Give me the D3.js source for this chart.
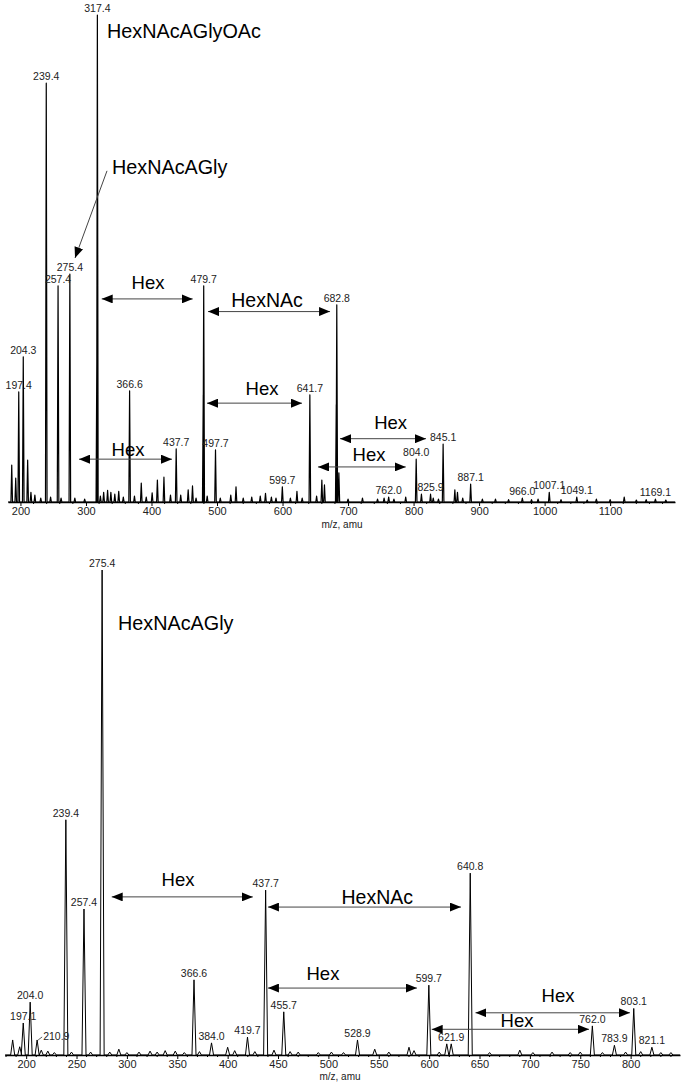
<!DOCTYPE html>
<html><head><meta charset="utf-8">
<script src="https://cdn.jsdelivr.net/npm/d3@7"></script>
<style>body{margin:0;background:#fff}svg{display:block}text{font-family:"Liberation Sans",Arial,sans-serif}</style>
</head><body>
<svg id="c" width="683" height="1085"></svg>
<script>
// ---------- Top spectrum data ----------
const topLabeledMz  = [197.4,204.3,239.4,257.4,275.4,317.4,366.6,437.7,479.7,497.7,599.7,641.7,682.8,762.0,804.0,825.9,845.1,887.1,966.0,1007.1,1049.1,1169.1];
const topLabeledInt = [22.6, 29.8, 86.0, 44.4, 46.8, 100,  22.8, 10.9, 44.4, 10.7, 3.1,  22.0, 40.5, 1.0,  8.8,  1.6,  11.9, 3.7,  0.8,  2.0,   1.0,   0.6];
const topMinorMz  = [186.7,192.8,211,216,222,231,246,262,283,298,316.6,322,327,333,338,344,350,357,374,384.4,392,401,409,419,429,444.6,456,462.6,468,479,485,505,521,529,540,553,566,574,583,590,612,622,630,652,660,664,682,686,700,722,745,755,770,788,812,830,838,863,867,875,905,925,945,980,990,1025,1065,1079,1100,1121.5,1140,1155,1185];
const topMinorInt = [7.6,4.9,8.6,2,1.4,0.8,1,0.8,0.8,0.6,30,1.2,2,2.4,2,1.6,2.2,1,1.2,3.9,1,1.9,4.5,5.1,1.4,1.4,2.5,3.3,0.8,22,1.2,0.8,1.4,3.1,0.8,1,1.2,1.8,1,0.8,0.8,2.2,0.8,1.2,4.5,3.5,20,6,0.6,0.8,0.6,0.8,0.6,1,1.6,0.8,0.6,2.5,2,0.8,0.6,0.6,0.5,0.5,0.6,0.5,0.4,0.6,0.5,1,0.4,0.5,0.4];
const topTicks = [200,300,400,500,600,700,800,900,1000,1100];
const topArrowText = ["Hex","HexNAc","Hex","Hex","Hex","Hex"];
const topArrowFrom = [324.0,486.2,484.7,289.4,687.7,654.1];
const topArrowTo   = [462.9,672.5,629.7,431.3,819.0,788.1];
const topArrowY    = [41.7, 39.1, 20.3, 8.8, 13.0, 7.2];
const topArrowTextMz = [394.7,576.3,568.7,364.2,765,732];
const topArrowTextY  = [45.0, 41.5, 23.4, 10.7, 16.4, 9.8];

// ---------- Bottom spectrum data ----------
const botLabeledMz  = [197.1,204.0,210.9,239.4,257.4,275.4,366.6,384.0,419.7,437.7,455.7,528.9,599.7,621.9,640.8,762.0,783.9,803.1,821.1];
const botLabeledInt = [6.6, 10.9, 3.1, 48.5, 30.1, 100, 15.5, 2.5, 3.7, 34.0, 8.9, 3.1, 14.4, 2.3, 37.5, 6.0, 2.0, 9.6, 1.6];
const botMinorMz  = [186.6,193.6,215,221.5,228,245,264,283,292,300,312,323,330,338,348,357,372,400,407,427,446,462,470,490,503,515,546,560,580,585,610,617.5,660,690,703,722,740,750,772,795,810,830,840];
const botMinorInt = [3.1,1.7,1,0.8,0.5,0.6,0.6,0.6,1.2,0.5,0.6,0.8,0.6,0.9,0.8,0.5,0.7,1.6,0.9,0.7,1,0.7,0.6,0.5,0.6,0.5,1.2,0.6,1.6,0.9,0.6,2.3,0.5,1,0.5,0.6,0.5,0.6,0.5,0.6,0.7,0.5,0.5];
const botTicks = [200,250,300,350,400,450,500,550,600,650,700,750,800];
const botArrowText = ["Hex","HexNAc","Hex","Hex","Hex"];
const botArrowFrom = [284.9,440.0,440.0,646.0,602.5];
const botArrowTo   = [425.0,631.6,587.9,799.3,758.7];
const botArrowY    = [32.6, 30.5, 13.8, 8.7, 5.3];
const botArrowTextMz = [350.7,548.5,494.6,727.9,687.2];
const botArrowTextY  = [36.1, 32.5, 16.9, 12.2, 7.2];

const svg = d3.select("#c");
const defs = svg.append("defs");
defs.append("marker").attr("id","ah").attr("viewBox","0 0 11 9").attr("refX",11).attr("refY",4.5)
  .attr("markerWidth",11).attr("markerHeight",9).attr("markerUnits","userSpaceOnUse").attr("orient","auto-start-reverse")
  .append("path").attr("d","M0,0L11,4.5L0,9Z").attr("fill","#000");

function spectrum(cfg){
  const x = d3.scaleLinear().domain(cfg.xDom).range(cfg.xRange);
  const y = d3.scaleLinear().domain([0,100]).range(cfg.yRange);
  const g = svg.append("g");
  const peaks = cfg.mz.map((m,i)=>[m,cfg.int[i]]).concat(cfg.minMz.map((m,i)=>[m,cfg.minInt[i]])).sort((a,b)=>a[0]-b[0]);
  const pts = [[cfg.xDom[0],0]];
  peaks.forEach(p=>{pts.push([p[0]-cfg.hw,0],[p[0],p[1]],[p[0]+cfg.hw,0]);});
  pts.push([cfg.xDom[1],0]);
  const line = d3.line().x(d=>x(d[0])).y(d=>y(d[1]));
  g.append("path").attr("d",line(pts)).attr("fill","none").attr("stroke","#000").attr("stroke-width",cfg.sw).attr("stroke-linejoin","round");
  // axis
  const ax = g.append("g").attr("transform",`translate(0,${cfg.yRange[0]})`)
    .call(d3.axisBottom(x).tickValues(cfg.ticks).tickFormat(d3.format("d")).tickSize(4).tickSizeOuter(0).tickPadding(1));
  ax.select(".domain").attr("stroke","#000").attr("stroke-width",1.3);
  ax.selectAll(".tick text").attr("font-size",11).attr("fill","#222").attr("font-family","Liberation Sans, Arial, sans-serif");
  const minor = d3.range(Math.ceil(cfg.xDom[0]/cfg.minorStep)*cfg.minorStep, cfg.xDom[1], cfg.minorStep).filter(v=>!cfg.ticks.includes(v));
  g.append("g").selectAll("line").data(minor).join("line")
    .attr("x1",d=>x(d)).attr("x2",d=>x(d)).attr("y1",cfg.yRange[0]).attr("y2",cfg.yRange[0]+2).attr("stroke","#000");
  g.append("text").attr("x",cfg.titleX).attr("y",cfg.titleY).attr("text-anchor","middle").attr("font-size",10).attr("fill","#222").text("m/z, amu");
  // peak labels
  cfg.mz.forEach((m,i)=>{
    const off = (cfg.labelOff && cfg.labelOff[m]) || [0,0];
    g.append("text").attr("x",x(m)+off[0]).attr("y",y(cfg.int[i])-3+off[1]).attr("text-anchor",off[0]?"start":"middle")
      .attr("font-size",10.5).attr("fill","#222").text(m.toFixed(1));
    if(off[0]){
      g.append("line").attr("x1",x(m)+1).attr("y1",y(cfg.int[i])).attr("x2",x(m)+off[0]-1).attr("y2",y(cfg.int[i])-6+off[1])
        .attr("stroke","#333").attr("stroke-width",0.8);
    }
  });
  // arrows
  cfg.aText.forEach((t,i)=>{
    g.append("line").attr("x1",x(cfg.aFrom[i])).attr("x2",x(cfg.aTo[i])).attr("y1",y(cfg.aY[i])).attr("y2",y(cfg.aY[i]))
      .attr("stroke","#444").attr("stroke-width",1).attr("marker-start","url(#ah)").attr("marker-end","url(#ah)");
    g.append("text").attr("x",x(cfg.aTMz[i])).attr("y",y(cfg.aTY[i])).attr("dy","0.35em").attr("text-anchor","middle")
      .attr("font-size",t==="Hex"?18.5:19.5).attr("fill","#000").text(t);
  });
  return {x,y,g};
}

const T = spectrum({xDom:[181,1199],xRange:[8,675],yRange:[502,15],mz:topLabeledMz,int:topLabeledInt,minMz:topMinorMz,minInt:topMinorInt,
  hw:1.2,sw:1.2,ticks:topTicks,minorStep:20,titleX:342,titleY:528,aText:topArrowText,aFrom:topArrowFrom,aTo:topArrowTo,aY:topArrowY,aTMz:topArrowTextMz,aTY:topArrowTextY});
// top compound annotations
const topNames = ["HexNAcAGlyOAc","HexNAcAGly"];
const topNameMz = [332.1,339.7];
const topNameInt = [96.7,68.8];
topNames.forEach((n,i)=>T.g.append("text").attr("x",T.x(topNameMz[i])).attr("y",T.y(topNameInt[i])).attr("dy","0.35em").attr("font-size",19.8).text(n));
const leaderMz = [332.1,283.3], leaderInt=[68.0,50.1];
T.g.append("line").attr("x1",T.x(leaderMz[0])).attr("y1",T.y(leaderInt[0])).attr("x2",T.x(leaderMz[1])).attr("y2",T.y(leaderInt[1]))
  .attr("stroke","#444").attr("marker-end","url(#ah)");

const B = spectrum({xDom:[179,849],xRange:[5,680],yRange:[1055,570],mz:botLabeledMz,int:botLabeledInt,minMz:botMinorMz,minInt:botMinorInt,
  hw:2,sw:1,ticks:botTicks,minorStep:10,titleX:340,titleY:1080,labelOff:{210.9:[6,3]},aText:botArrowText,aFrom:botArrowFrom,aTo:botArrowTo,aY:botArrowY,aTMz:botArrowTextMz,aTY:botArrowTextY});
const botNames = ["HexNAcAGly"], botNameMz=[291.2], botNameInt=[89.1];
botNames.forEach((n,i)=>B.g.append("text").attr("x",B.x(botNameMz[i])).attr("y",B.y(botNameInt[i])).attr("dy","0.35em").attr("font-size",19.8).text(n));
</script>
</body></html>
